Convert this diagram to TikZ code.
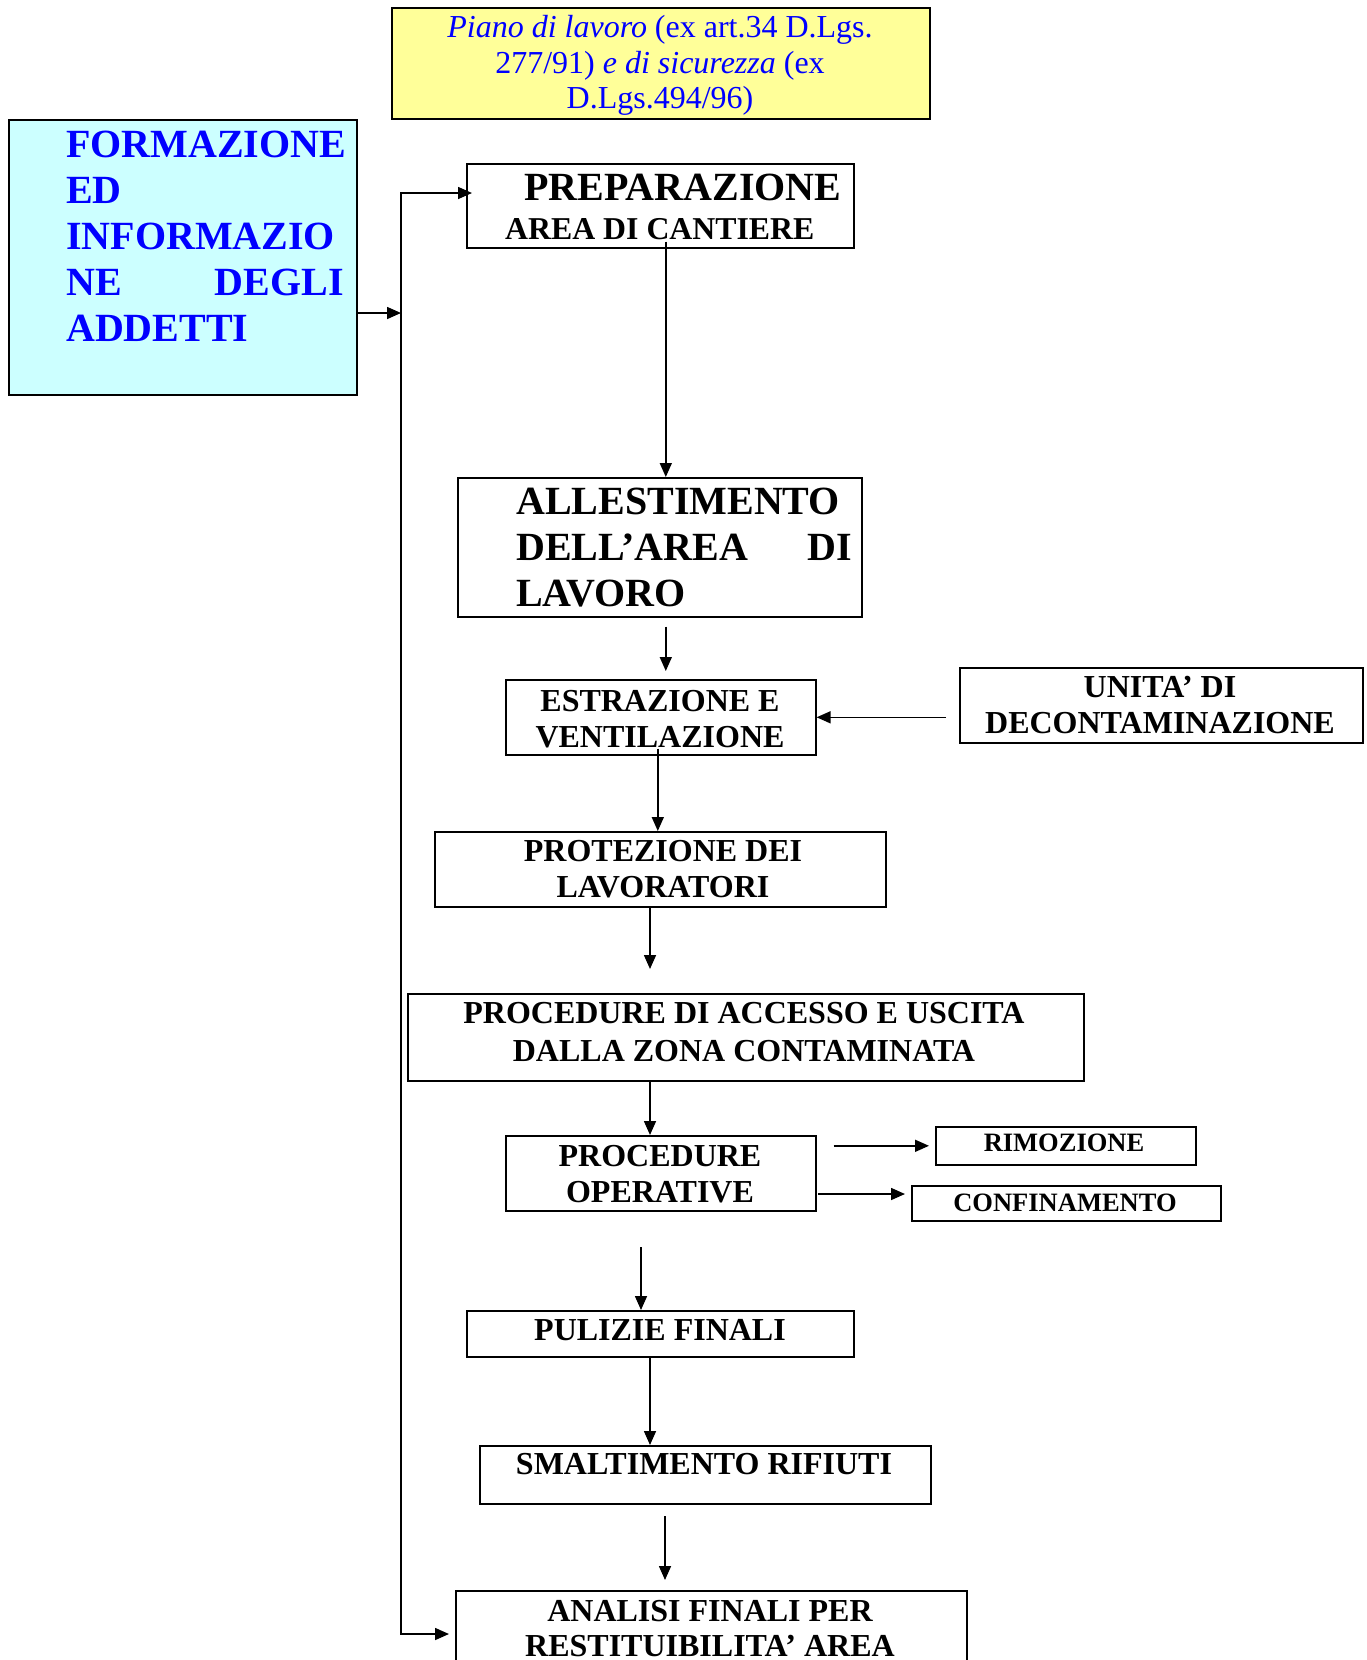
\documentclass[tikz,border=0pt]{standalone}
\usepackage{fontspec}
\setmainfont{Liberation Serif}
\usetikzlibrary{arrows.meta}
\definecolor{yel}{HTML}{FFFF99}
\definecolor{cy}{HTML}{CCFFFF}
\definecolor{tblue}{HTML}{0000FF}
\tikzset{
 box/.style={draw, line width=1.6pt, inner sep=0pt, anchor=north west},
 lbl/.style={inner sep=0pt, anchor=base, font=\bfseries\fontsize{32}{36}\selectfont},
 bigl/.style={inner sep=0pt, anchor=base west, font=\bfseries\fontsize{40}{46}\selectfont},
 smalll/.style={inner sep=0pt, anchor=base, font=\bfseries\fontsize{26.5}{30}\selectfont},
 yl/.style={inner sep=0pt, anchor=base, text=tblue, font=\fontsize{32}{36}\selectfont},
 cl/.style={inner sep=0pt, anchor=base west, text=tblue, font=\bfseries\fontsize{40}{46}\selectfont},
 arr/.style={line width=1.6pt, -{Triangle[length=14pt,width=12pt]}},
 arr2/.style={line width=1.6pt, {Triangle[length=14pt,width=12pt]}-{Triangle[length=14pt,width=12pt]}},
}
\begin{document}
\begin{tikzpicture}[x=1pt,y=-1pt]
\clip (0,0) rectangle (1367,1660);
\fill[white] (0,0) rectangle (1367,1660);

% boxes
\node[box, fill=yel, minimum width=538pt, minimum height=111pt] (yel) at (391,7) {};
\node[box, fill=cy, minimum width=348pt, minimum height=275pt] (cyan) at (8,119) {};
\node[box, minimum width=387pt, minimum height=84pt] (prep) at (466,163) {};
\node[box, minimum width=404pt, minimum height=139pt] (allest) at (457,477) {};
\node[box, minimum width=310pt, minimum height=75pt] (estr) at (505,679) {};
\node[box, minimum width=403pt, minimum height=75pt] (unita) at (959,667) {};
\node[box, minimum width=451pt, minimum height=75pt] (prot) at (434,831) {};
\node[box, minimum width=676pt, minimum height=87pt] (proc) at (407,993) {};
\node[box, minimum width=310pt, minimum height=75pt] (oper) at (505,1135) {};
\node[box, minimum width=260pt, minimum height=38pt] (rimoz) at (935,1126) {};
\node[box, minimum width=309pt, minimum height=35pt] (confin) at (911,1185) {};
\node[box, minimum width=387pt, minimum height=46pt] (puliz) at (466,1310) {};
\node[box, minimum width=451pt, minimum height=58pt] (smalt) at (479,1445) {};
\node[box, minimum width=511pt, minimum height=110pt] (anal) at (455,1590) {};

% texts
\node[yl] (y1) at (660,37) {\textit{Piano di lavoro} (ex art.34 D.Lgs.};
\node[yl] (y2) at (660,73) {277/91) \textit{e di sicurezza} (ex};
\node[yl] (y3) at (660,108) {D.Lgs.494/96)};

\node[cl] (c1) at (66,157) {FORMAZIONE};
\node[cl] (c2) at (66,203) {ED};
\node[cl] (c3) at (66,249) {INFORMAZIO};
\node[cl] (c4) at (66,295) {NE};
\node[cl, anchor=base east] (c4b) at (344,295) {DEGLI};
\node[cl] (c5) at (66,341) {ADDETTI};

\node[bigl] (p1) at (524,200) {PREPARAZIONE};
\node[inner sep=0pt, anchor=base west, font=\bfseries\fontsize{31.8}{36}\selectfont] (p2) at (505,239) {AREA DI CANTIERE};

\node[bigl] (a1) at (516,514) {ALLESTIMENTO};
\node[bigl] (a2) at (516,560) {DELL’AREA};
\node[bigl, anchor=base east] (a2b) at (852,560) {DI};
\node[bigl] (a3) at (516,606) {LAVORO};

\node[lbl] (e1t) at (660,711) {ESTRAZIONE E};
\node[lbl] (e2t) at (660,747) {VENTILAZIONE};
\node[lbl] (u1) at (1160,697) {UNITA’ DI};
\node[lbl] (u2) at (1160,733) {DECONTAMINAZIONE};
\node[lbl] (pr1) at (663,861) {PROTEZIONE DEI};
\node[lbl] (pr2) at (663,897) {LAVORATORI};
\node[lbl] (pc1) at (744,1023) {PROCEDURE DI ACCESSO E USCITA};
\node[lbl] (pc2) at (744,1061) {DALLA ZONA CONTAMINATA};
\node[lbl] (o1) at (660,1166) {PROCEDURE};
\node[lbl] (o2) at (660,1202) {OPERATIVE};
\node[smalll] (r1) at (1064,1151) {RIMOZIONE};
\node[smalll] (cf1) at (1065,1211) {CONFINAMENTO};
\node[lbl] (pu1) at (660,1340) {PULIZIE FINALI};
\node[lbl] (s1) at (704,1474) {SMALTIMENTO RIFIUTI};
\node[lbl] (an1) at (710,1621) {ANALISI FINALI PER};
\node[lbl] (an2) at (710,1656) {RESTITUIBILITA’ AREA};

% connectors
\coordinate (busA) at (401,313);
\coordinate (busT) at (401,193);
\coordinate (busB) at (401,1634);
\coordinate (xa) at (650,969);
\coordinate (xb) at (641,1247);
\coordinate (xc) at (665,1516);
\coordinate (xd) at (665,1580);
\coordinate (cfy) at (818,1194);

\draw[arr] (cyan.east |- busA) -- (busA);
\draw[arr2, shorten <=-6pt, shorten >=6pt]
  (prep.west |- busT) -- (busT) -- (busB) -- (anal.west |- busB);
\draw[arr] ([shift={(5.5pt,7pt)}]prep.south) -- ([xshift=6pt]allest.north);
\draw[arr] ([shift={(6pt,-9pt)}]allest.south) -- ([shift={(5pt,8pt)}]estr.north);
\draw[arr] ([xshift=-13pt]unita.west |- estr.east) -- (estr.east);
\draw[arr] ([shift={(-3pt,7pt)}]estr.south) -- ([xshift=-2.5pt]prot.north);
\draw[arr] (prot.south -| xa) -- (xa);
\draw[arr] (proc.south -| xa) -- (oper.north -| xa);
\draw[arr] ([xshift=17pt]oper.east |- rimoz.west) -- ([xshift=-6pt]rimoz.west);
\draw[arr] (cfy) -- ([xshift=-6pt]confin.west |- cfy);
\draw[arr] (xb) -- (puliz.north -| xb);
\draw[arr] (puliz.south -| xa) -- (smalt.north -| xa);
\draw[arr] (xc) -- (xd);
\end{tikzpicture}
\end{document}
